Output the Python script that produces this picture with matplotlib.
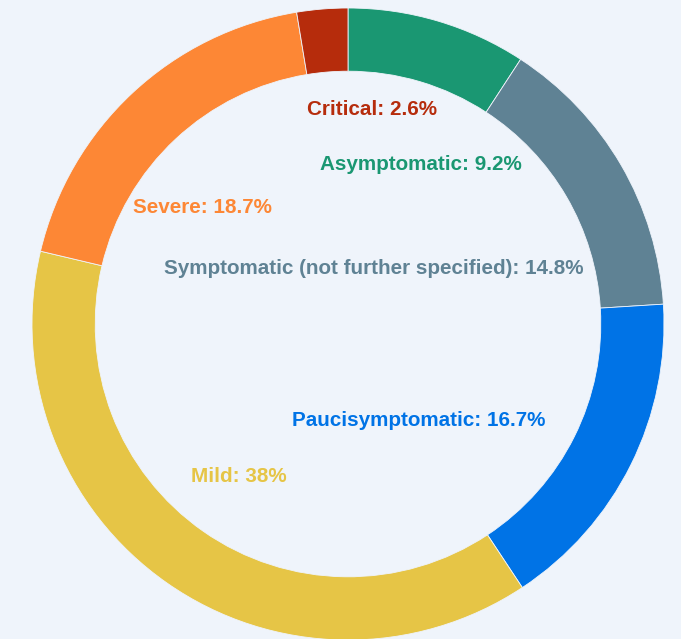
import numpy as np
import matplotlib.pyplot as plt

categories = ['Asymptomatic', 'Symptomatic (not further specified)', 'Paucisymptomatic',
              'Mild', 'Severe', 'Critical']
shares = [9.2, 14.8, 16.7, 38, 18.7, 2.6]
colors = ['#1a9772', '#5f8294', '#0073e6', '#e6c546', '#fd8735', '#b62c0c']
# label anchor points in pixels (x, baseline y from top)
label_pos = [(421, 170), (374, 274), (419, 426), (239, 482), (202, 213), (372, 115)]

bg = '#eff4fb'
W, H = 681, 639
fig = plt.figure(figsize=(W / 100, H / 100), dpi=100, facecolor=bg)
ax = fig.add_axes([0, 0, 1, 1])
ax.set_facecolor(bg)

cx, cy, R = 348, 324, 316
ax.pie(shares, colors=colors, startangle=90, counterclock=False,
       center=(cx, H - cy), radius=R,
       wedgeprops=dict(width=R * 0.2, edgecolor=bg, linewidth=0.6))

for name, val, col, (x, y) in zip(categories, shares, colors, label_pos):
    txt = '%s: %s%%' % (name, ('%g' % val))
    ax.text(x, H - y, txt, color=col, fontsize=14.9, fontweight='bold',
            family=['Liberation Sans', 'DejaVu Sans'], ha='center', va='baseline')

ax.set_xlim(0, W)
ax.set_ylim(0, H)
ax.set_aspect('equal')
ax.axis('off')
fig.savefig('out.png', dpi=100, facecolor=bg)
